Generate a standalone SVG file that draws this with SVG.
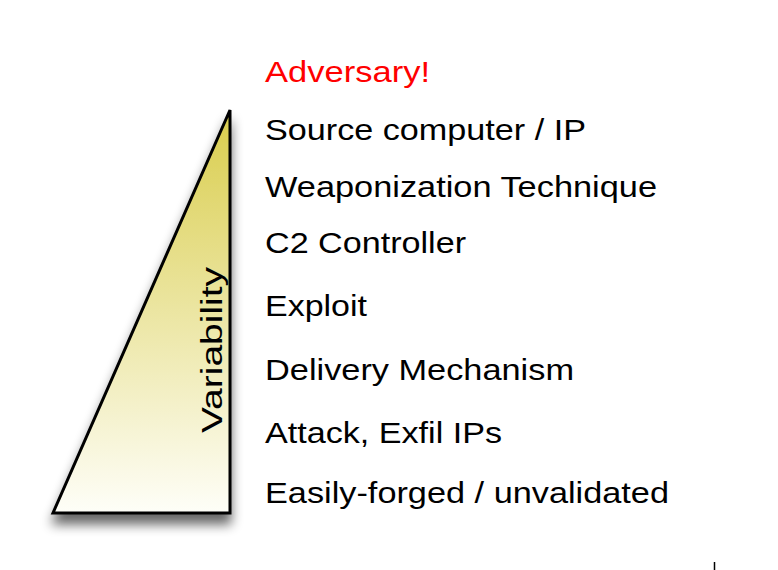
<svg xmlns="http://www.w3.org/2000/svg" width="778" height="570" viewBox="0 0 778 570">
<style>
.l{font-family:"Liberation Sans",Arial,sans-serif;font-size:30px;fill:#000}
</style>
<defs>
<linearGradient id="g" x1="0" y1="0" x2="0" y2="1">
<stop offset="0" stop-color="#d9cd4c"/>
<stop offset="1" stop-color="#fefef8"/>
</linearGradient>
<filter id="sh" x="-20%" y="-20%" width="140%" height="140%">
<feGaussianBlur in="SourceAlpha" stdDeviation="6"/>
<feOffset dx="0" dy="10"/>
<feComponentTransfer><feFuncA type="linear" slope="0.6"/></feComponentTransfer>
<feMerge><feMergeNode/><feMergeNode in="SourceGraphic"/></feMerge>
</filter>
</defs>
<rect width="778" height="570" fill="#fff"/>
<g id="triangle">
<polygon points="230,110 53,513 230,513" fill="url(#g)" stroke="#000" stroke-width="3" filter="url(#sh)"/>
<text class="l" font-size="36" text-anchor="middle" transform="translate(222,350) rotate(-90)" textLength="166" lengthAdjust="spacingAndGlyphs">Variability</text>
</g>
<g id="labels">
<text class="l" x="265" y="82" fill="#f00" style="fill:#f00" textLength="165" lengthAdjust="spacingAndGlyphs">Adversary!</text>
<text class="l" x="265" y="140" textLength="321" lengthAdjust="spacingAndGlyphs">Source computer / IP</text>
<text class="l" x="265" y="197" textLength="392" lengthAdjust="spacingAndGlyphs">Weaponization Technique</text>
<text class="l" x="265" y="253" textLength="201" lengthAdjust="spacingAndGlyphs">C2 Controller</text>
<text class="l" x="265" y="316" textLength="102" lengthAdjust="spacingAndGlyphs">Exploit</text>
<text class="l" x="265" y="380" textLength="309" lengthAdjust="spacingAndGlyphs">Delivery Mechanism</text>
<text class="l" x="265" y="443" textLength="237" lengthAdjust="spacingAndGlyphs">Attack, Exfil IPs</text>
<text class="l" x="265" y="503" textLength="404" lengthAdjust="spacingAndGlyphs">Easily-forged / unvalidated</text>
</g>
<line x1="714.5" y1="562" x2="714.5" y2="570" stroke="#000" stroke-width="1.5"/>
</svg>
